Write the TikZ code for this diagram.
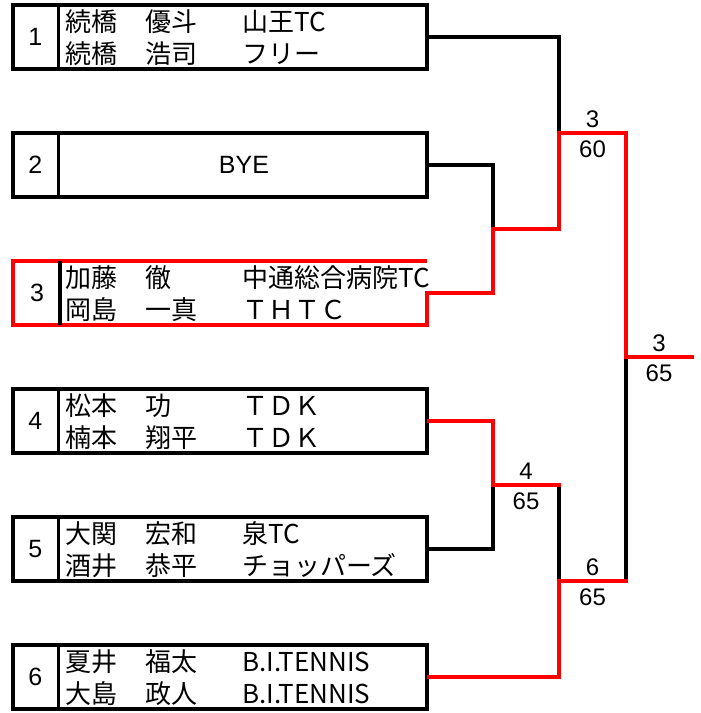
\documentclass[tikz,border=0pt]{standalone}
\usepackage{fontspec}
\setmainfont{Liberation Sans}
\newfontfamily\jpfont{Noto Sans CJK JP}
\usetikzlibrary{calc}

\tikzset{
	entrybox/.style={draw, line width=3.3pt, minimum width=414pt, minimum height=64pt, inner sep=0pt},
	emptybox/.style={minimum width=414pt, minimum height=64pt, inner sep=0pt, outer sep=0pt},
	numtext/.style={font=\fontsize{25}{29}\selectfont, inner sep=0pt},
	nametext/.style={font=\jpfont\fontsize{26}{30}\selectfont, anchor=base west, inner sep=0pt},
	blackline/.style={draw=black, line width=3.2pt, line cap=rect},
	redline/.style={draw=red, line width=3.2pt, line cap=rect},
	scoretext/.style={font=\fontsize{24}{28}\selectfont, inner sep=0pt}
}

\newcommand{\playerrow}[5]{%
	\node[nametext] (#1-sur) at (65,#2) {#3};
	\node[nametext] (#1-giv) at (145,#2) {#4};
	\node[nametext] (#1-club) at (242,#2) {#5};
}

\begin{document}
\begin{tikzpicture}[x=1pt, y=-1pt]
		\useasboundingbox (0,0) rectangle (701,713);

		\coordinate (m23) at (493,229);
		\coordinate (m45) at (493,485);
		\coordinate (m1) at (559,133);
		\coordinate (m2) at (559,581);
		\coordinate (fin) at (626,357);
		\coordinate (champ) at (692,357);

		\node[entrybox] (e1) at (220,37) {};
		\node[entrybox] (e2) at (220,165) {};
		\node[emptybox] (e3) at (220,293) {};
		\node[entrybox] (e4) at (220,421) {};
		\node[entrybox] (e5) at (220,549) {};
		\node[entrybox] (e6) at (220,677) {};

		\draw[redline, line cap=butt, line width=3.3pt] (e3.east) -- (e3.south east) -- (e3.south west) -- (e3.north west) -- (e3.north east);
		\foreach \k in {1,...,6}
			\draw[line width=3.3pt] ($(e\k.north west)+(47,0)$) -- ($(e\k.south west)+(47,0)$);

		\foreach \k in {1,...,6}
			\node[numtext] (num\k) at ($(e\k.west)+(24,0)$) {\k};

		\playerrow{p1a}{31}{続橋}{優斗}{山王TC}
		\playerrow{p1b}{63}{続橋}{浩司}{フリー}
		\node[numtext] (bye) at (244,165) {BYE};
		\playerrow{p3a}{287}{加藤}{徹}{中通総合病院TC}
		\playerrow{p3b}{319}{岡島}{一真}{ＴＨＴＣ}
		\playerrow{p4a}{415}{松本}{功}{ＴＤＫ}
		\playerrow{p4b}{447}{楠本}{翔平}{ＴＤＫ}
		\playerrow{p5a}{543}{大関}{宏和}{泉TC}
		\playerrow{p5b}{575}{酒井}{恭平}{チョッパーズ}
		\playerrow{p6a}{671}{夏井}{福太}{B.I.TENNIS}
		\playerrow{p6b}{703}{大島}{政人}{B.I.TENNIS}

		\draw[blackline] (e1.east) -| (m1);
		\draw[blackline] (e2.east) -| (m23);
		\draw[blackline] (e5.east) -| (m45);
		\draw[blackline] (m45 -| m2) -- (m2);
		\draw[blackline] (m2 -| fin) -- (fin);

		\draw[redline] (e3.east) -| (m23);
		\draw[redline] (m23) -| (m1);
		\draw[redline] (m1) -| (fin);
		\draw[redline] (fin) -- (champ);
		\draw[redline] (e4.east) -| (m45);
		\draw[redline] (m45) -- (m45 -| m2);
		\draw[redline] (e6.east) -| (m2);
		\draw[redline] (m2) -- (m2 -| fin);

		\node[scoretext] (win1) at ($(m1)!0.5!(m1 -| fin)+(0,-14)$) {3};
		\node[scoretext] (pts1) at ($(m1)!0.5!(m1 -| fin)+(0,16)$) {60};
		\node[scoretext] (win2) at ($(m45)!0.5!(m45 -| m2)+(0,-14)$) {4};
		\node[scoretext] (pts2) at ($(m45)!0.5!(m45 -| m2)+(0,16)$) {65};
		\node[scoretext] (win3) at ($(m2)!0.5!(m2 -| fin)+(0,-14)$) {6};
		\node[scoretext] (pts3) at ($(m2)!0.5!(m2 -| fin)+(0,16)$) {65};
		\node[scoretext] (win4) at ($(fin)!0.5!(champ)+(0,-14)$) {3};
		\node[scoretext] (pts4) at ($(fin)!0.5!(champ)+(0,16)$) {65};
	\end{tikzpicture}
\end{document}
